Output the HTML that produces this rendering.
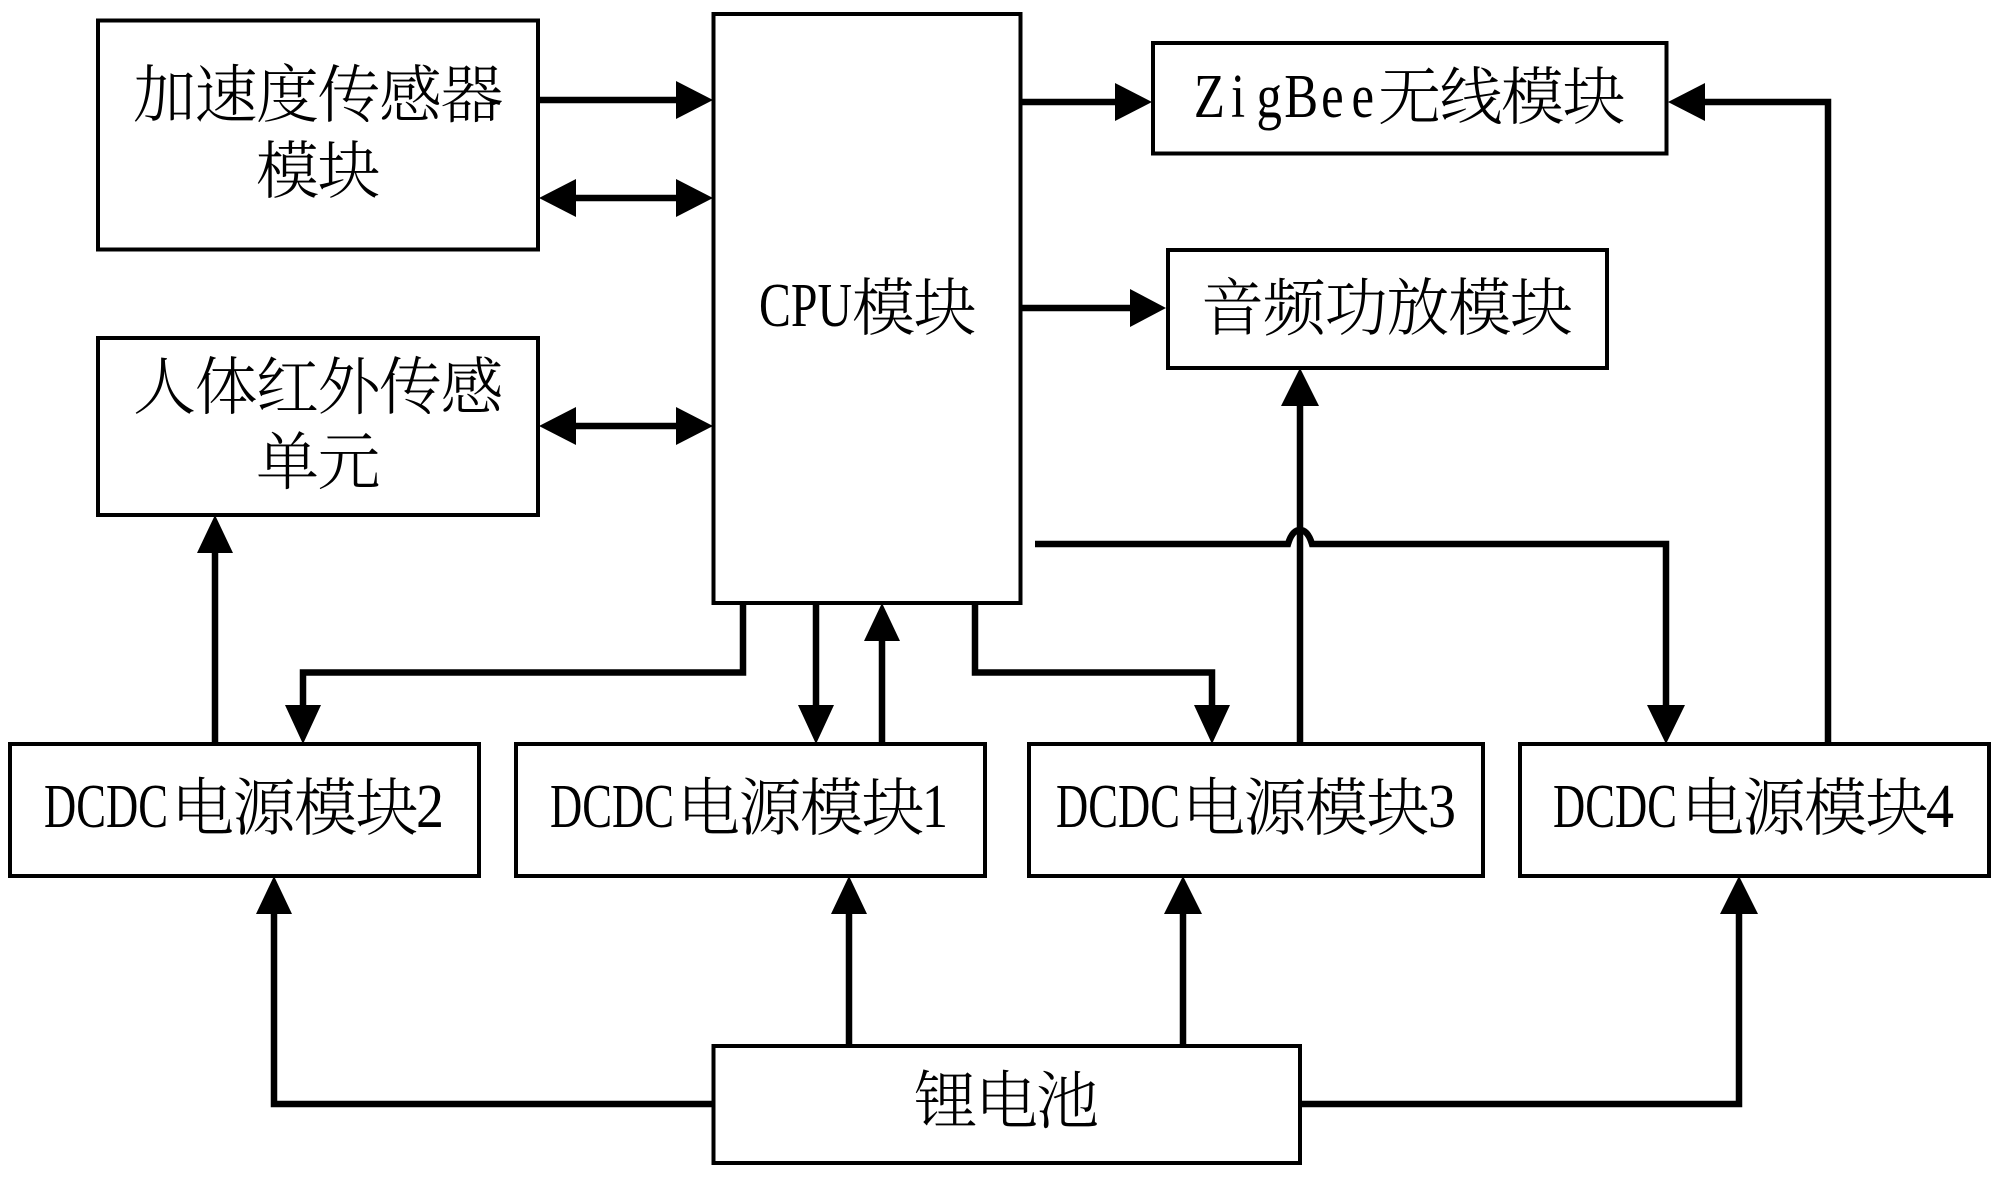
<!DOCTYPE html>
<html><head><meta charset="utf-8"><style>
html,body{margin:0;padding:0;background:#fff;width:2000px;height:1178px;overflow:hidden}
svg{display:block}
.c{font-family:"Liberation Serif","Noto Serif CJK SC",serif;font-size:63px;font-weight:300;fill:#000}
.l{font-family:"Liberation Serif",serif;font-size:62px;fill:#000}
</style></head><body>
<svg width="2000" height="1178" viewBox="0 0 2000 1178" xmlns="http://www.w3.org/2000/svg">
<g fill="#fff" stroke="#000" stroke-width="4">
<rect x="98" y="20.5" width="440" height="229"/>
<rect x="98" y="338" width="440" height="177"/>
<rect x="713.5" y="14" width="307" height="589"/>
<rect x="1153" y="43" width="513.5" height="110.5"/>
<rect x="1168" y="250" width="439" height="118"/>
<rect x="10" y="744" width="469" height="132"/>
<rect x="516" y="744" width="469" height="132"/>
<rect x="1029" y="744" width="454" height="132"/>
<rect x="1520" y="744" width="469" height="132"/>
<rect x="713.5" y="1046" width="586.5" height="117"/>
</g>
<g fill="none" stroke="#000" stroke-width="6.5" stroke-linejoin="miter">
<path d="M538 100H680"/>
<path d="M570 198H680"/>
<path d="M570 426H680"/>
<path d="M1021 102H1120"/>
<path d="M1021 308H1135"/>
<path d="M1035 544H1288C1291 534 1295 530 1300 530C1305 530 1309 534 1312 544H1666V710"/>
<path d="M1828 744V102H1705"/>
<path d="M1300 744V405"/>
<path d="M215 744V550"/>
<path d="M743 603V672.5H303V710"/>
<path d="M816 603V710"/>
<path d="M882 744V640"/>
<path d="M975 603V672.5H1212V710"/>
<path d="M713 1104H274V910"/>
<path d="M849 1046V910"/>
<path d="M1183 1046V910"/>
<path d="M1300 1104H1739V910"/>
</g>
<g fill="#000">
<path d="M713 100L676 81V119Z"/>
<path d="M713 198L676 179V217Z"/>
<path d="M539 198L576 179V217Z"/>
<path d="M713 426L676 407V445Z"/>
<path d="M539 426L576 407V445Z"/>
<path d="M1152 102L1115 83V121Z"/>
<path d="M1166 308L1130 289V327Z"/>
<path d="M1668 102L1705 83V121Z"/>
<path d="M1300 368L1281 406H1319Z"/>
<path d="M215 515L197 553H233Z"/>
<path d="M303 744L285 705H321Z"/>
<path d="M816 744L798 705H834Z"/>
<path d="M882 603L864 641H900Z"/>
<path d="M1212 744L1194 705H1230Z"/>
<path d="M1666 744L1647 705H1685Z"/>
<path d="M274 876L256 914H292Z"/>
<path d="M849 876L831 914H867Z"/>
<path d="M1183 876L1164 914H1202Z"/>
<path d="M1739 876L1720 914H1758Z"/>
</g>
<text class="c" x="133 194.5 256 317.5 379 440.5" y="117">加速度传感器</text>
<text class="c" x="256 317.5" y="193">模块</text>
<text class="c" x="133 194.5 256 317.5 379 440.5" y="409">人体红外传感</text>
<text class="c" x="256 317.5" y="484">单元</text>
<text class="l" x="759" y="326" textLength="93" lengthAdjust="spacingAndGlyphs">CPU</text>
<text class="c" x="852 913.5" y="330">模块</text>
<g transform="translate(1193,117) scale(.82,1)"><text class="l" text-anchor="middle" x="20 55 93 132 170 207" y="0">ZigBee</text></g>
<text class="c" x="1378 1439.5 1501 1562.5" y="119">无线模块</text>
<text class="c" x="1201 1262.8 1324.6 1386.4 1448.2 1510" y="330">音频功放模块</text>
<text class="l" x="44" y="827" textLength="124" lengthAdjust="spacingAndGlyphs">DCDC</text>
<text class="c" x="171 232.5 294 355.5" y="830">电源模块</text>
<text class="l" x="416" y="827" textLength="28" lengthAdjust="spacingAndGlyphs">2</text>
<text class="l" x="550" y="827" textLength="124" lengthAdjust="spacingAndGlyphs">DCDC</text>
<text class="c" x="677 738.5 800 861.5" y="830">电源模块</text>
<text class="l" x="922" y="827" textLength="26" lengthAdjust="spacingAndGlyphs">1</text>
<text class="l" x="1056" y="827" textLength="124" lengthAdjust="spacingAndGlyphs">DCDC</text>
<text class="c" x="1182 1243.5 1305 1366.5" y="830">电源模块</text>
<text class="l" x="1428" y="827" textLength="28" lengthAdjust="spacingAndGlyphs">3</text>
<text class="l" x="1553" y="827" textLength="124" lengthAdjust="spacingAndGlyphs">DCDC</text>
<text class="c" x="1681 1742.5 1804 1865.5" y="830">电源模块</text>
<text class="l" x="1926" y="827" textLength="28" lengthAdjust="spacingAndGlyphs">4</text>
<text class="c" x="914 975 1036" y="1123">锂电池</text>
</svg>
</body></html>
